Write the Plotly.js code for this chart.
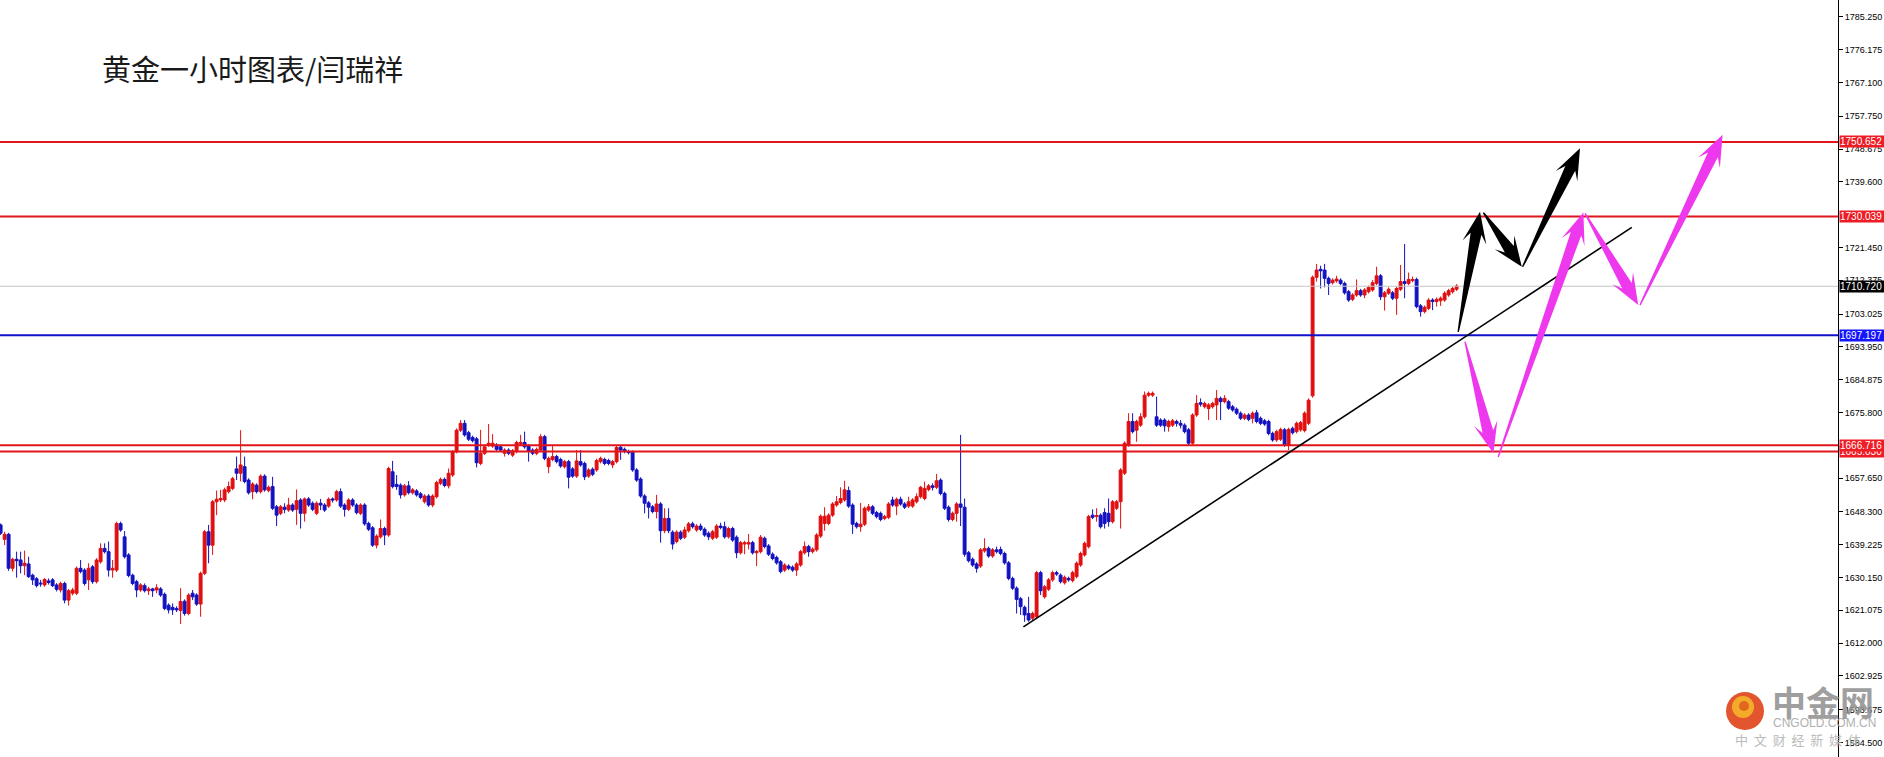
<!DOCTYPE html>
<html><head><meta charset="utf-8">
<script src="https://cdn.plot.ly/plotly-3.0.1.min.js"></script>
<style>html,body{margin:0;padding:0;background:#fff;overflow:hidden}#chart{width:1884px;height:757px}</style>
</head><body><div id="chart"></div>
<script>
// ---- OHLC data (hourly gold), one value per candle ----
const openP = [
1644.7,1640.7,1642.1,1632.7,1635.2,1635.0,1633.4,1633.9,1630.8,1629.8,
1628.6,1628.1,1629.2,1629.5,1628.1,1626.7,1628.5,1623.9,1625.8,1625.8,
1632.7,1632.2,1629.5,1633.1,1629.0,1634.5,1638.2,1637.3,1632.2,1632.2,
1645.1,1641.4,1636.4,1630.8,1629.0,1626.7,1627.9,1626.5,1627.0,1626.7,
1627.0,1625.5,1622.5,1621.9,1621.6,1621.0,1623.6,1620.2,1625.8,1625.3,
1622.8,1631.3,1642.8,1639.1,1651.1,1651.6,1651.6,1653.9,1654.8,1660.2,
1659.0,1660.8,1657.1,1653.9,1655.7,1653.9,1658.2,1654.2,1655.3,1649.7,
1647.9,1649.6,1648.8,1650.2,1649.0,1651.6,1647.9,1651.9,1650.7,1647.9,
1650.7,1650.2,1649.9,1651.9,1651.6,1653.9,1650.2,1649.0,1651.6,1650.2,
1647.9,1650.2,1645.1,1643.9,1639.1,1641.4,1643.7,1641.9,1659.4,1655.9,
1655.7,1653.0,1655.5,1653.6,1654.1,1653.3,1651.1,1652.7,1650.2,1652.5,
1656.2,1657.3,1655.5,1658.5,1664.9,1670.9,1672.8,1670.2,1668.9,1668.5,
1661.7,1664.5,1666.8,1666.5,1666.8,1666.3,1664.5,1665.4,1664.0,1665.0,
1667.1,1667.5,1666.5,1665.4,1664.5,1665.4,1669.1,1660.8,1662.8,1663.6,
1662.8,1660.8,1662.2,1660.2,1658.2,1662.2,1661.7,1658.2,1660.1,1659.9,
1662.2,1662.8,1662.5,1661.3,1662.2,1666.2,1665.6,1665.0,1664.8,1659.9,
1657.4,1652.7,1650.8,1649.7,1648.4,1650.5,1643.1,1646.5,1642.7,1640.1,
1642.7,1641.3,1643.1,1645.0,1643.3,1644.4,1643.5,1642.4,1641.0,1641.3,
1644.4,1644.2,1641.4,1643.7,1641.3,1637.0,1639.4,1639.4,1639.8,1637.0,
1637.3,1641.0,1638.9,1636.6,1635.7,1634.5,1632.2,1633.3,1633.0,1632.2,
1633.6,1637.0,1638.7,1637.3,1637.8,1641.6,1645.1,1645.1,1647.4,1650.2,
1650.9,1651.6,1654.2,1650.2,1645.1,1644.2,1644.9,1648.8,1649.7,1648.1,
1647.9,1646.5,1646.8,1651.6,1649.9,1651.8,1650.5,1649.9,1649.9,1651.1,
1652.5,1652.0,1654.5,1655.5,1655.1,1657.1,1653.4,1649.6,1646.2,1647.9,
1650.5,1649.6,1637.0,1635.2,1633.9,1633.3,1637.5,1638.2,1636.1,1637.8,
1637.9,1636.8,1634.2,1629.9,1627.2,1624.3,1621.9,1620.2,1618.9,1619.3,
1631.5,1624.8,1626.9,1629.5,1631.5,1630.8,1628.7,1629.9,1629.3,1630.4,
1633.6,1636.4,1638.7,1647.4,1647.0,1647.4,1648.1,1647.9,1645.6,1649.3,
1651.1,1659.0,1666.8,1673.3,1670.9,1672.3,1674.6,1680.6,1680.6,1674.6,
1673.7,1673.7,1671.9,1672.3,1673.3,1672.8,1672.3,1671.0,1667.3,1675.1,
1678.5,1677.4,1676.9,1677.4,1677.9,1679.7,1678.8,1678.8,1677.4,1676.7,
1675.6,1674.2,1675.1,1674.2,1675.7,1674.2,1673.5,1673.3,1670.0,1668.2,
1668.4,1671.0,1666.8,1671.4,1670.5,1671.0,1670.8,1672.8,1680.4,1713.2,
1715.4,1715.2,1712.9,1711.7,1712.2,1712.4,1711.5,1709.2,1707.1,1708.3,
1709.5,1708.3,1709.2,1709.7,1711.5,1713.6,1707.8,1708.8,1708.9,1707.4,
1709.9,1712.0,1711.5,1712.3,1712.6,1705.3,1703.7,1704.6,1706.9,1706.5,
1706.7,1706.9,1708.3,1709.2,1709.9];
const highP = [
1645.1,1642.8,1642.5,1635.6,1637.3,1637.3,1637.6,1635.9,1631.2,1630.3,
1629.5,1630.0,1629.9,1630.0,1628.6,1629.0,1629.0,1627.0,1627.3,1633.2,
1635.0,1632.7,1634.1,1633.6,1635.5,1639.6,1639.6,1640.1,1635.0,1645.6,
1645.6,1643.0,1636.9,1631.2,1629.5,1628.6,1628.5,1627.6,1627.3,1628.3,
1627.5,1626.0,1623.0,1623.0,1622.2,1627.2,1624.1,1625.8,1626.7,1625.8,
1631.8,1643.3,1644.7,1651.6,1654.2,1654.4,1655.0,1656.7,1658.0,1663.6,
1670.9,1663.6,1657.6,1656.5,1656.2,1658.7,1658.7,1655.6,1658.0,1650.2,
1650.2,1650.7,1652.2,1650.7,1654.5,1652.1,1652.3,1652.4,1651.2,1651.2,
1651.9,1650.7,1652.3,1652.3,1654.4,1654.8,1650.7,1652.1,1652.1,1650.7,
1650.7,1650.7,1645.6,1644.4,1642.1,1646.2,1644.2,1660.8,1662.4,1658.5,
1656.2,1656.0,1656.8,1654.9,1654.6,1653.8,1653.2,1653.2,1653.2,1656.9,
1657.8,1657.8,1660.3,1665.4,1671.4,1673.7,1673.7,1670.7,1669.4,1669.0,
1671.0,1666.8,1672.6,1669.8,1667.3,1666.8,1665.9,1665.9,1665.7,1668.0,
1669.6,1670.5,1667.0,1665.9,1666.1,1669.8,1669.6,1663.6,1666.8,1664.1,
1663.3,1662.7,1662.7,1660.7,1665.4,1665.4,1662.2,1660.4,1660.6,1663.0,
1663.6,1663.3,1663.0,1662.7,1666.8,1666.5,1666.1,1665.5,1665.3,1660.4,
1657.9,1653.2,1651.3,1650.2,1653.0,1651.0,1649.3,1649.3,1643.2,1643.2,
1643.2,1644.2,1645.5,1645.6,1644.9,1645.1,1644.0,1642.9,1643.3,1644.9,
1645.3,1645.6,1644.2,1644.2,1641.8,1640.3,1640.3,1642.2,1640.3,1637.8,
1641.9,1641.5,1639.4,1637.1,1636.2,1635.0,1634.1,1633.8,1633.5,1634.4,
1637.8,1640.1,1639.2,1638.5,1642.4,1647.6,1649.6,1647.9,1651.0,1652.7,
1655.1,1656.9,1655.3,1650.7,1645.6,1650.8,1649.8,1650.5,1650.2,1648.6,
1648.4,1647.5,1651.0,1652.5,1652.3,1652.5,1651.0,1652.5,1652.1,1653.4,
1655.5,1656.7,1656.0,1656.2,1658.8,1657.6,1653.9,1650.1,1648.4,1651.0,
1669.6,1652.0,1637.5,1635.7,1634.4,1638.3,1641.0,1638.7,1638.3,1638.7,
1638.7,1637.3,1634.7,1630.4,1627.7,1624.8,1622.4,1624.8,1620.7,1632.0,
1632.0,1628.1,1630.0,1632.0,1632.0,1631.3,1630.7,1630.4,1632.0,1634.6,
1637.3,1640.1,1647.5,1649.0,1649.3,1647.9,1649.3,1652.0,1651.6,1651.6,
1660.4,1667.8,1675.6,1675.6,1673.8,1675.6,1681.6,1681.6,1681.6,1680.2,
1674.2,1674.2,1673.8,1674.0,1673.8,1673.7,1672.8,1671.5,1675.6,1680.6,
1679.7,1678.8,1678.4,1678.8,1682.0,1680.2,1680.6,1679.3,1677.9,1677.2,
1676.1,1675.6,1675.6,1676.1,1676.5,1674.7,1674.0,1673.8,1670.5,1671.0,
1671.6,1671.5,1671.6,1671.9,1673.3,1673.5,1676.1,1679.7,1713.7,1716.9,
1716.4,1716.9,1713.4,1712.9,1713.6,1712.9,1712.0,1709.7,1708.8,1712.6,
1710.0,1710.2,1710.9,1712.4,1716.1,1714.1,1709.4,1710.4,1709.4,1710.6,
1716.6,1722.4,1714.5,1713.4,1713.1,1705.8,1705.4,1707.4,1707.4,1707.6,
1707.9,1709.3,1710.0,1710.6,1711.3];
const lowP = [
1641.9,1639.1,1632.0,1631.8,1630.1,1631.3,1630.8,1630.0,1628.1,1627.4,
1627.6,1627.6,1628.2,1627.5,1626.3,1626.0,1623.0,1622.4,1625.2,1625.3,
1631.3,1627.9,1626.7,1628.4,1628.5,1634.0,1636.8,1630.4,1630.1,1631.7,
1642.8,1635.4,1630.2,1628.0,1624.7,1626.2,1626.0,1625.3,1624.8,1625.8,
1624.8,1621.1,1620.2,1619.8,1620.6,1617.3,1619.6,1619.7,1623.9,1622.3,
1619.3,1630.8,1634.1,1636.4,1647.4,1651.0,1651.0,1653.4,1654.3,1657.1,
1656.7,1656.2,1653.1,1651.8,1653.4,1653.4,1653.9,1653.7,1648.8,1644.4,
1647.4,1647.9,1648.3,1648.3,1644.7,1643.7,1645.6,1649.7,1648.5,1647.4,
1648.8,1648.3,1649.4,1650.9,1651.1,1649.4,1647.0,1648.5,1649.7,1647.6,
1647.4,1644.5,1643.0,1638.6,1638.2,1640.9,1639.1,1641.4,1654.8,1654.4,
1652.0,1652.5,1653.1,1653.1,1652.5,1651.8,1650.6,1649.7,1649.6,1652.0,
1655.7,1655.1,1654.8,1658.0,1664.5,1670.4,1669.1,1667.9,1667.5,1660.6,
1661.2,1664.0,1666.3,1666.0,1665.1,1664.9,1663.6,1664.0,1663.5,1664.5,
1666.6,1665.8,1662.2,1664.0,1664.0,1664.9,1662.6,1659.0,1662.3,1661.7,
1660.5,1660.3,1654.8,1657.7,1657.7,1660.8,1657.1,1657.7,1658.2,1659.4,
1661.7,1661.2,1661.2,1660.4,1661.7,1662.7,1664.5,1664.2,1659.4,1656.6,
1652.2,1647.9,1646.5,1647.9,1646.5,1639.8,1642.4,1642.4,1637.9,1639.6,
1640.5,1640.8,1642.6,1643.7,1642.8,1643.0,1641.4,1640.5,1640.5,1640.8,
1643.5,1640.9,1640.9,1640.0,1635.5,1636.5,1636.6,1637.9,1636.5,1633.3,
1636.8,1638.2,1636.1,1634.9,1633.7,1631.3,1631.7,1632.2,1631.7,1630.6,
1633.1,1636.5,1635.9,1636.8,1637.3,1641.1,1643.1,1644.6,1646.9,1649.7,
1650.4,1651.1,1649.4,1642.2,1643.7,1642.8,1644.4,1648.3,1647.4,1646.5,
1645.7,1646.0,1646.3,1649.7,1647.4,1650.0,1649.1,1649.4,1649.4,1650.6,
1652.0,1651.5,1654.0,1654.2,1654.6,1652.9,1648.8,1645.6,1645.7,1645.6,
1644.4,1635.9,1634.3,1633.1,1631.5,1632.8,1637.0,1635.6,1635.6,1636.8,
1636.3,1633.7,1629.4,1626.7,1620.2,1619.8,1617.9,1617.9,1618.4,1618.8,
1625.3,1624.3,1626.4,1629.0,1630.6,1628.5,1628.2,1629.0,1628.8,1629.9,
1633.1,1635.9,1638.2,1646.3,1645.6,1643.7,1643.7,1644.2,1645.1,1648.8,
1643.7,1658.5,1666.3,1670.0,1667.7,1671.8,1674.1,1680.1,1680.1,1671.8,
1671.8,1670.5,1670.5,1671.8,1671.9,1671.4,1670.0,1666.8,1666.8,1674.6,
1677.4,1676.9,1673.7,1676.9,1673.7,1673.7,1678.3,1676.5,1676.0,1675.1,
1673.7,1673.7,1673.4,1672.8,1672.8,1672.3,1672.1,1669.5,1667.7,1667.7,
1667.9,1666.3,1665.4,1669.7,1670.0,1670.5,1670.3,1672.3,1679.9,1712.0,
1710.1,1710.4,1708.3,1711.2,1711.7,1711.0,1708.4,1706.4,1706.6,1707.8,
1707.8,1707.4,1708.7,1709.2,1711.0,1706.9,1704.0,1708.3,1706.9,1702.8,
1709.4,1707.4,1711.0,1711.8,1704.6,1702.3,1703.2,1704.1,1704.1,1705.1,
1705.3,1706.4,1707.8,1708.7,1709.4];
const closeP = [
1642.4,1642.1,1632.7,1635.2,1634.8,1633.4,1634.1,1630.4,1629.5,1627.9,
1628.4,1629.6,1628.8,1627.9,1626.9,1628.5,1623.9,1626.5,1626.7,1632.7,
1631.8,1628.5,1632.7,1629.0,1635.0,1638.2,1637.3,1632.2,1632.7,1645.1,
1643.3,1635.9,1630.7,1628.5,1626.7,1628.1,1626.5,1627.0,1626.5,1627.3,
1625.3,1621.6,1621.2,1621.2,1621.2,1623.5,1620.2,1625.3,1624.8,1622.8,
1631.3,1642.8,1639.1,1651.1,1651.8,1652.0,1654.4,1655.3,1657.5,1659.0,
1661.3,1656.7,1653.6,1656.0,1653.9,1658.2,1654.4,1655.1,1649.3,1647.4,
1649.7,1649.0,1650.2,1648.8,1651.4,1647.9,1651.9,1650.2,1649.0,1650.7,
1650.2,1648.8,1651.8,1651.6,1653.9,1649.9,1649.0,1651.6,1650.2,1648.1,
1650.2,1645.0,1643.5,1639.1,1641.6,1643.7,1641.9,1660.3,1655.3,1655.3,
1653.0,1655.5,1653.6,1654.4,1653.0,1652.3,1652.7,1650.2,1652.7,1656.4,
1657.3,1655.6,1659.0,1664.9,1670.9,1672.8,1669.6,1668.4,1668.0,1661.9,
1664.5,1666.3,1667.3,1667.3,1665.6,1665.4,1665.4,1664.5,1665.2,1667.5,
1667.5,1666.3,1665.0,1664.5,1665.6,1669.1,1663.1,1663.1,1663.6,1662.2,
1661.0,1662.2,1657.9,1658.2,1662.4,1661.3,1658.0,1659.9,1658.7,1662.5,
1663.1,1661.7,1661.7,1662.2,1666.1,1665.4,1665.0,1664.7,1659.9,1657.1,
1652.7,1650.7,1649.6,1648.4,1650.5,1643.1,1646.5,1643.1,1639.4,1642.7,
1641.0,1643.3,1645.0,1644.2,1644.4,1643.5,1641.9,1641.4,1642.8,1644.4,
1644.0,1641.4,1643.7,1640.5,1637.0,1639.8,1639.8,1639.8,1637.0,1637.3,
1641.3,1638.7,1636.6,1635.4,1634.2,1631.8,1633.6,1632.7,1632.2,1633.9,
1637.3,1638.7,1637.3,1638.0,1641.9,1647.1,1647.1,1647.4,1650.5,1651.1,
1652.0,1654.4,1649.9,1644.9,1644.2,1644.9,1649.3,1649.7,1647.9,1647.0,
1646.2,1647.0,1650.5,1650.2,1651.8,1650.5,1649.6,1651.1,1651.6,1652.5,
1655.1,1654.8,1655.5,1655.1,1656.9,1653.4,1649.3,1646.2,1647.9,1650.5,
1649.6,1636.6,1634.8,1633.6,1632.7,1637.8,1638.2,1636.1,1637.8,1637.3,
1636.8,1634.2,1629.9,1627.2,1624.1,1622.1,1619.8,1618.4,1620.2,1631.5,
1626.5,1627.6,1629.5,1631.5,1631.1,1629.0,1630.2,1629.5,1631.5,1634.1,
1636.8,1639.6,1647.0,1646.8,1647.3,1644.2,1645.1,1645.6,1651.1,1651.1,
1659.9,1667.3,1673.3,1670.5,1673.3,1674.6,1680.6,1681.1,1681.1,1672.3,
1672.3,1672.1,1673.3,1673.5,1672.8,1672.3,1670.5,1667.3,1675.1,1678.3,
1678.1,1678.3,1677.9,1678.3,1679.7,1678.8,1679.7,1677.0,1676.5,1675.6,
1674.2,1675.1,1673.9,1675.6,1673.3,1672.8,1672.6,1670.0,1668.2,1670.5,
1671.1,1666.8,1671.1,1670.2,1672.8,1673.0,1675.6,1679.2,1713.2,1715.2,
1715.0,1712.9,1711.5,1712.4,1712.7,1711.5,1708.9,1706.9,1708.3,1709.5,
1708.3,1709.7,1710.4,1711.7,1713.6,1707.8,1708.9,1709.9,1707.4,1710.1,
1712.0,1711.5,1712.6,1712.6,1705.1,1703.7,1704.9,1706.9,1706.5,1707.1,
1707.4,1708.8,1709.5,1710.1,1710.8];
const barIndex = openP.map((_, i) => i);

// ---- right price axis ----
const yTickVals = [1785.25,1776.175,1767.1,1757.75,1748.675,1739.6,1721.45,1712.375,1703.025,1693.95,
  1684.875,1675.8,1657.65,1648.3,1639.225,1630.15,1621.075,1612.0,1602.925,1593.675,1584.5];
const yTickText = yTickVals.map(v => v.toFixed(3));

// ---- horizontal levels (drawn lines + axis price tags) ----
const levelValues = [1750.652, 1730.039, 1710.720, 1697.197, 1665.030, 1666.716];
const levelLineColors = ['#e0161b','#e0161b','#c4c4c4','#1010c8','#e0161b','#e0161b'];
const levelLineWidths = [2, 2, 1, 2, 2, 2];
const levelTagColors = ['#ee1c24','#ee1c24','#000000','#1414ff','#ee1c24','#ee1c24'];

// ---- drawn trend line & projected arrows: [barIndex, price] pairs ----
const trendLine = [[255.7, 1616.5], [407.8, 1727.0]];
const blackArrows = [[364.4,1698.1,369.85,1731.3],[370.7,1731.1,380.3,1716.1],[380.5,1716.1,394.85,1748.9]];
const magentaArrows = [[366.1,1695.4,373.2,1664.5],[374.4,1663.5,395.7,1731.1],[396.1,1730.9,409.4,1705.5],[409.85,1705.5,430.5,1752.6]];

const titleText = '黄金一小时图表/闫瑞祥';

// ---- geometry helpers ----
const X0 = -0.15, X1 = 459.35, Y0 = 1580.5, Y1 = 1789.9;
const PW = 1838, PH = 757;
const sx = PW / (X1 - X0), sy = PH / (Y1 - Y0);
function toPx(x, y) { return [(x - X0) * sx, (Y1 - y) * sy]; }
function toData(px, py) { return [px / sx + X0, Y1 - py / sy]; }
function pxPaper(px, py) { return [px / PW, 1 - py / PH]; }

function arrowPath(a) {
  const [tx, ty] = toPx(a[0], a[1]);
  const [hx, hy] = toPx(a[2], a[3]);
  const dx = hx - tx, dy = hy - ty, L = Math.hypot(dx, dy);
  const ux = dx / L, uy = dy / L, nx = -uy, ny = ux;
  const hl = Math.min(31, L * 0.45), hw = 12, sw = 5.5, tw = 0.7;
  const bx = hx - ux * hl * 0.72, by = hy - uy * hl * 0.72;
  const cx = hx - ux * hl, cy = hy - uy * hl;
  const pts = [[tx + nx * tw, ty + ny * tw], [bx + nx * sw, by + ny * sw], [cx + nx * hw, cy + ny * hw], [hx, hy],
               [cx - nx * hw, cy - ny * hw], [bx - nx * sw, by - ny * sw], [tx - nx * tw, ty - ny * tw]];
  return 'M' + pts.map(p => { const d = toData(p[0], p[1]); return d[0].toFixed(3) + ',' + d[1].toFixed(3); }).join('L') + 'Z';
}

const shapes = [];
levelValues.forEach((v, i) => {
  shapes.push({type: 'line', xref: 'paper', yref: 'y', x0: 0, x1: 1, y0: v, y1: v,
    line: {color: levelLineColors[i], width: levelLineWidths[i]}, layer: 'above'});
});
shapes.push({type: 'line', xref: 'x', yref: 'y', x0: trendLine[0][0], y0: trendLine[0][1], x1: trendLine[1][0], y1: trendLine[1][1],
  line: {color: '#000', width: 1.6}});
blackArrows.forEach(a => shapes.push({type: 'path', xref: 'x', yref: 'y', path: arrowPath(a), fillcolor: '#000', line: {width: 0}}));
magentaArrows.forEach(a => shapes.push({type: 'path', xref: 'x', yref: 'y', path: arrowPath(a), fillcolor: '#ee38ee', line: {width: 0}}));

// watermark logo (decoration)
function circle(cx, cy, r, fill, op) {
  const a = pxPaper(cx - r, cy + r), b = pxPaper(cx + r, cy - r);
  return {type: 'circle', xref: 'paper', yref: 'paper', x0: a[0], y0: a[1], x1: b[0], y1: b[1], fillcolor: fill, line: {width: 0}, opacity: op};
}
shapes.push(circle(1745, 711, 19, '#e0461c', 0.92));
shapes.push(circle(1743, 707, 11, '#f6b02a', 0.95));
shapes.push(circle(1744, 706, 5, '#e2621e', 0.95));

const annotations = levelValues.map((v, i) => ({
  xref: 'paper', x: 1, xanchor: 'left', xshift: 1, yref: 'y', y: v, yanchor: 'middle',
  text: v.toFixed(3), showarrow: false, bgcolor: levelTagColors[i], borderpad: 0, width: 44, align: 'left',
  font: {family: 'Liberation Sans, Arial, sans-serif', size: 10, color: '#fff'}
}));
function wm(text, px, py, size, color, family) {
  const p = pxPaper(px, py);
  return {xref: 'paper', yref: 'paper', x: p[0], y: p[1], xanchor: 'center', yanchor: 'middle', showarrow: false,
    text: text, font: {family: family || 'Noto Sans CJK SC', size: size, color: color}, opacity: 0.88};
}
annotations.push(wm('<b>中金网</b>', 1823, 701, 34, '#929292'));
annotations.push(wm('CNGOLD.COM.CN', 1824, 723, 12, '#a6a6a6', 'Liberation Sans, Arial, sans-serif'));
annotations.push(wm('中  文  财  经  新  媒  体', 1798, 739, 13, '#b3b3b3'));

const trace = {
  type: 'candlestick', x: barIndex, open: openP, high: highP, low: lowP, close: closeP,
  increasing: {line: {color: '#e01010', width: 1}, fillcolor: '#e01010'},
  decreasing: {line: {color: '#1212c0', width: 1}, fillcolor: '#1212c0'},
  whiskerwidth: 0, hoverinfo: 'skip'
};

const layout = {
  width: 1884, height: 757, margin: {l: 0, r: 46, t: 0, b: 0, pad: 0},
  paper_bgcolor: '#ffffff', plot_bgcolor: '#ffffff', showlegend: false,
  boxgap: 0.15, boxgroupgap: 0.15,
  title: {text: titleText, font: {family: 'Noto Sans CJK SC', size: 29, color: '#1a1a1a'},
    xref: 'container', yref: 'container', x: 102 / 1884, xanchor: 'left', y: 1 - 71 / 757, yanchor: 'middle'},
  xaxis: {range: [X0, X1], visible: false, showgrid: false, zeroline: false, rangeslider: {visible: false}, fixedrange: true},
  yaxis: {range: [Y0, Y1], side: 'right', tickmode: 'array', tickvals: yTickVals, ticktext: yTickText,
    ticks: 'outside', ticklen: 4, tickcolor: '#000', tickwidth: 1, showline: true, linecolor: '#000', linewidth: 1,
    showgrid: false, zeroline: false, fixedrange: true,
    tickfont: {family: 'Liberation Sans, Arial, sans-serif', size: 9, color: '#000'}},
  shapes: shapes, annotations: annotations
};

Plotly.newPlot('chart', [trace], layout, {staticPlot: true, displayModeBar: false});
</script>
</body></html>
